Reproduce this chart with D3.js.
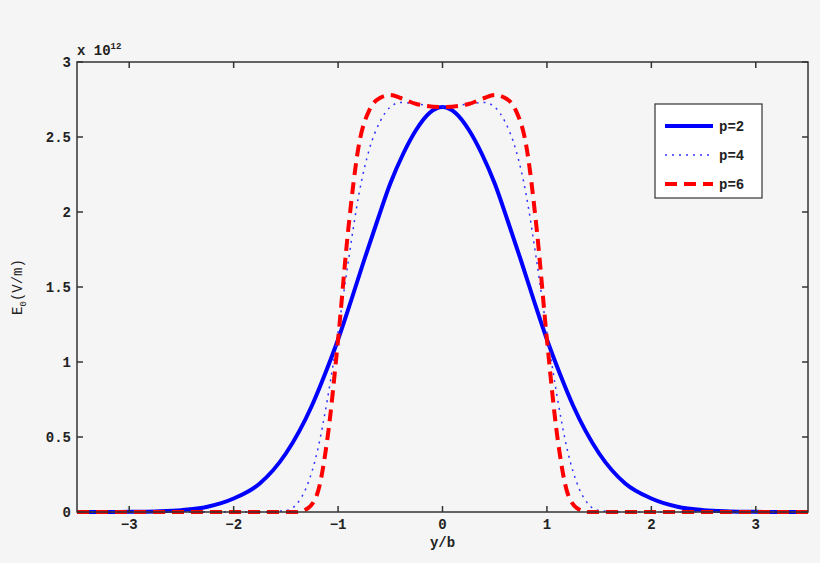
<!DOCTYPE html><html><head><script src="https://cdn.jsdelivr.net/npm/d3@7"></script>
<style>body{margin:0;background:#f5f5f5}text{font-family:"Liberation Mono","DejaVu Sans Mono","Courier New",monospace;font-weight:bold;font-size:14px;fill:#222}</style></head><body><svg width="820" height="563"></svg><script>
const xTicks=[-3,-2,-1,0,1,2,3];
const yTicks=[0,0.5,1,1.5,2,2.5,3];
const yTickLabels=["0","0.5","1","1.5","2","2.5","3"];
const p2X=[0,0.125,0.25,0.375,0.5,0.625,0.75,0.875,1,1.125,1.25,1.5,1.75,2,2.25,2.5,2.75,3,3.25,3.5];
const p2V=[2.70,2.66,2.55,2.39,2.19,1.94,1.68,1.41,1.15,0.92,0.71,0.39,0.19,0.09,0.035,0.012,0.004,0.001,0,0];
const p4X=[0,0.25,0.4,0.5,0.6,0.7,0.8,0.9,1.0,1.1,1.2,1.3,1.4,1.5,1.75,3.5];
const p4V=[2.70,2.72,2.73,2.70,2.60,2.42,2.12,1.68,1.2,0.76,0.40,0.17,0.05,0.01,0,0];
const p6X=[0,0.25,0.4,0.5,0.6,0.7,0.8,0.9,1.0,1.1,1.2,1.3,1.4,3.5];
const p6V=[2.70,2.72,2.76,2.78,2.76,2.68,2.45,1.9,1.15,0.5,0.12,0.02,0,0];
const series=[{n:"p=2",x:p2X,v:p2V,c:"#0000ff",w:4,d:null},{n:"p=4",x:p4X,v:p4V,c:"#3333ff",w:1.5,d:"2,5"},{n:"p=6",x:p6X,v:p6V,c:"#ff0000",w:4,d:"12,7"}];
const svg=d3.select("svg"),L=77,R=808,T=62,B=512;
const x=d3.scaleLinear().domain([-3.5,3.5]).range([L,R]);
const y=d3.scaleLinear().domain([0,3]).range([B,T]);
const line=d3.line().x(d=>x(d[0])).y(d=>y(d[1])).curve(d3.curveMonotoneX);
series.forEach(s=>{
 const pts=[];for(let i=s.x.length-1;i>0;i--)pts.push([-s.x[i],s.v[i]]);
 s.x.forEach((xx,i)=>pts.push([xx,s.v[i]]));
 svg.append("path").datum(pts).attr("d",line).attr("fill","none").attr("stroke",s.c).attr("stroke-width",s.w).attr("stroke-dasharray",s.d);
});
const ax=svg.append("g").attr("stroke","#333").attr("stroke-width",1.5);
ax.append("rect").attr("x",L).attr("y",T).attr("width",R-L).attr("height",B-T).attr("fill","none");
xTicks.forEach(t=>{ax.append("line").attr("x1",x(t)).attr("x2",x(t)).attr("y1",B).attr("y2",B-6);ax.append("line").attr("x1",x(t)).attr("x2",x(t)).attr("y1",T).attr("y2",T+6);
 svg.append("text").attr("x",x(t)).attr("y",B+17).attr("text-anchor","middle").text(t<0?"\u2212"+(-t):t);});
yTicks.forEach((t,i)=>{ax.append("line").attr("x1",L).attr("x2",L+6).attr("y1",y(t)).attr("y2",y(t));ax.append("line").attr("x1",R).attr("x2",R-6).attr("y1",y(t)).attr("y2",y(t));
 svg.append("text").attr("x",L-6).attr("y",y(t)+5).attr("text-anchor","end").text(yTickLabels[i]);});
const e=svg.append("text").attr("x",L).attr("y",T-7);e.append("tspan").text("x 10");e.append("tspan").attr("dy",-6).attr("font-size",9).text("12");
svg.append("text").attr("x",(L+R)/2).attr("y",B+35).attr("text-anchor","middle").text("y/b");
const yl=svg.append("text").attr("transform",`translate(22,${(T+B)/2}) rotate(-90)`).attr("text-anchor","middle").style("font-weight","normal");
yl.append("tspan").text("E");yl.append("tspan").attr("dy",4).attr("font-size",9).text("0");yl.append("tspan").attr("dy",-4).text("(V/m)");
const lg=svg.append("g").attr("transform","translate(655,104)");
lg.append("rect").attr("width",107).attr("height",94).attr("fill","#fff").attr("stroke","#333").attr("stroke-width",1.2);
series.forEach((s,i)=>{const yy=22+i*29;lg.append("line").attr("x1",10).attr("x2",58).attr("y1",yy).attr("y2",yy).attr("stroke",s.c).attr("stroke-width",s.w).attr("stroke-dasharray",s.d);
 lg.append("text").attr("x",64).attr("y",yy+5).text(s.n);});
</script></body></html>
